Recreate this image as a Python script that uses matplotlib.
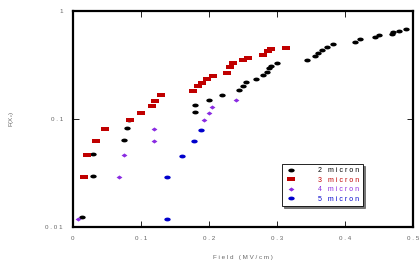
import numpy as np
import matplotlib
matplotlib.use('Agg')
import matplotlib.pyplot as plt
from matplotlib.path import Path

# field (MV/cm) and F(Xc) values
x_2um = [0.0141, 0.0303, 0.0303, 0.0754, 0.0803, 0.0828, 0.180, 0.180, 0.2004, 0.220,
         0.245, 0.250, 0.2549, 0.2696, 0.2803, 0.2853, 0.2891, 0.2912, 0.3009, 0.345,
         0.3563, 0.3612, 0.3662, 0.3735, 0.3832, 0.415, 0.4225, 0.4446, 0.4509, 0.469,
         0.4715, 0.4799, 0.490]
y_2um = [0.0122, 0.0293, 0.0469, 0.0640, 0.0816, 0.0985, 0.1156, 0.1334, 0.1494, 0.1663,
         0.185, 0.2015, 0.2195, 0.2355, 0.2533, 0.2735, 0.298, 0.309, 0.327, 0.351,
         0.383, 0.410, 0.435, 0.461, 0.494, 0.516, 0.546, 0.574, 0.595, 0.612,
         0.639, 0.657, 0.676]

x_3um = [0.0171, 0.0206, 0.0343, 0.047, 0.0843, 0.100, 0.117, 0.1206, 0.1303, 0.1774,
         0.1843, 0.190, 0.197, 0.2068, 0.2265, 0.2313, 0.236, 0.250, 0.2574, 0.2803,
         0.2876, 0.2912, 0.3137]
y_3um = [0.0286, 0.0459, 0.0626, 0.080, 0.0975, 0.114, 0.1306, 0.147, 0.165, 0.1823,
         0.2002, 0.2162, 0.2325, 0.2494, 0.268, 0.302, 0.330, 0.351, 0.369, 0.391,
         0.428, 0.441, 0.457]

x_4um = [0.0082, 0.0676, 0.0754, 0.120, 0.120, 0.193, 0.2006, 0.2053, 0.240]
y_4um = [0.0118, 0.0286, 0.0459, 0.0626, 0.080, 0.0967, 0.114, 0.1295, 0.1485]

x_5um = [0.138, 0.139, 0.160, 0.178, 0.188]
y_5um = [0.0118, 0.0286, 0.0455, 0.0626, 0.0792]

labels = ['2 micron', '3 micron', '4 micron', '5 micron']
colors = ['#000000', '#c00000', '#8a2be2', '#0000cc']

xticks = [0, 0.1, 0.2, 0.3, 0.4, 0.5]
xticklabels = ['0', '0.1', '0.2', '0.3', '0.4', '0.5']
yticks = [0.01, 0.1, 1]
yticklabels = ['0.01', '0.1', '1']


def spaced(s):
    return ' '.join(s)


t = np.linspace(0, 2 * np.pi, 30)
ellipse = Path(np.column_stack([np.cos(t), 0.6 * np.sin(t)]))
rect = Path([(-1, -0.5), (1, -0.5), (1, 0.5), (-1, 0.5), (-1, -0.5)])
diamond = Path([(-1, 0), (0, 0.7), (1, 0), (0, -0.7), (-1, 0)])
markers = [ellipse, rect, diamond, ellipse]
sizes = [4.6, 5.2, 4.2, 4.6]

plt.rcParams['font.family'] = ['Liberation Sans', 'DejaVu Sans']
txt = '#666666'

fig = plt.figure(figsize=(4.19, 2.67), dpi=100)
ax = fig.add_axes([0.1735, 0.151, 0.8115, 0.808])

data = [(x_2um, y_2um), (x_3um, y_3um), (x_4um, y_4um), (x_5um, y_5um)]
for (xs, ys), lab, c, m, s in zip(data, labels, colors, markers, sizes):
    ax.plot(xs, ys, linestyle='none', marker=m, markersize=s, color=c,
            markeredgewidth=0, label=spaced(lab))

ax.set_yscale('log')
ax.set_xlim(0, 0.5)
ax.set_ylim(0.01, 1)
ax.set_xticks(xticks)
ax.set_xticklabels([spaced(l) for l in xticklabels])
ax.set_yticks(yticks)
ax.set_yticklabels([spaced(l) for l in yticklabels])
ax.minorticks_off()
ax.tick_params(direction='in', length=4, width=0.6, top=True, right=True,
               labelsize=4.5, labelcolor=txt, pad=7)
for sp in ax.spines.values():
    sp.set_linewidth(1.6)

ax.set_xlabel(spaced('Field (MV/cm)'), fontsize=4.5, color=txt, labelpad=10)
ax.set_ylabel('F(X$_c$)', fontsize=4.5, color=txt, labelpad=21)

leg = ax.legend(loc='upper left', bbox_to_anchor=(0.615, 0.29), fontsize=5,
                frameon=True, fancybox=False,
                shadow={'color': '#555555', 'alpha': 0.8, 'ox': 1.5, 'oy': -1.5},
                borderpad=0.45, handlelength=1.8, handletextpad=3.0,
                labelspacing=0.35, borderaxespad=0)
leg.get_frame().set_edgecolor('black')
leg.get_frame().set_linewidth(0.6)
for text, c in zip(leg.get_texts(), colors):
    text.set_color(c)

fig.savefig('out.png', dpi=100)
